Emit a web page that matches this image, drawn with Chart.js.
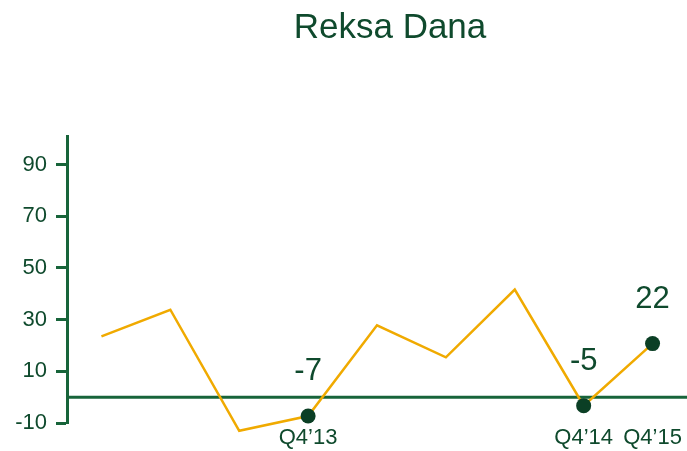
<!DOCTYPE html>
<html>
<head>
<meta charset="utf-8">
<script src="https://cdn.jsdelivr.net/npm/chart.js@4"></script>
<style>
  html, body { margin: 0; padding: 0; background: #ffffff; }
  #wrap { width: 687px; height: 451px; position: relative; }
</style>
</head>
<body>
<div id="wrap"><canvas id="c"></canvas></div>
<script>
const titleText = 'Reksa Dana';
const categories = ['Q1', 'Q2', 'Q3', 'Q4\u201913', 'Q1', 'Q2', 'Q3', 'Q4\u201914', 'Q4\u201915'];
const shownLabels = ['', '', '', 'Q4\u201913', '', '', '', 'Q4\u201914', 'Q4\u201915'];
const values = [23.5, 33.8, -13, -7.3, 27.8, 15.4, 41.6, -3.3, 20.7];
const markerLabels = ['', '', '', '-7', '', '', '', '-5', '22'];
const yTicks = [-10, 10, 30, 50, 70, 90];

const GREEN_AXIS = '#17643a';
const GREEN_TEXT = '#0f4a2d';
const GREEN_DOT = '#0b3f25';
const ORANGE = '#f0aa00';
const FONT = '"Liberation Sans", Arial, sans-serif';

const overlay = {
  id: 'overlay',
  beforeDatasetsDraw(chart) {
    const ctx = chart.ctx, y = chart.scales.y, a = chart.chartArea;
    const py = y.getPixelForValue(0);
    ctx.save();
    ctx.strokeStyle = GREEN_AXIS;
    ctx.lineWidth = 3;
    ctx.beginPath();
    ctx.moveTo(a.left, py);
    ctx.lineTo(chart.width, py);
    ctx.stroke();
    ctx.restore();
  },
  afterDatasetsDraw(chart) {
    const ctx = chart.ctx;
    const meta = chart.getDatasetMeta(0);
    ctx.save();
    ctx.fillStyle = GREEN_TEXT;
    ctx.font = '31px ' + FONT;
    ctx.textAlign = 'center';
    ctx.textBaseline = 'alphabetic';
    meta.data.forEach((pt, i) => {
      if (markerLabels[i]) ctx.fillText(markerLabels[i], pt.x, pt.y - 36);
    });
    ctx.font = '35px ' + FONT;
    ctx.fillText(titleText, 390, 38);
    ctx.restore();
  }
};

new Chart(document.getElementById('c'), {
  type: 'line',
  data: {
    labels: categories,
    datasets: [{
      data: values,
      borderColor: ORANGE,
      borderWidth: 2.5,
      tension: 0,
      fill: false,
      clip: false,
      pointRadius: markerLabels.map(l => l ? 7.5 : 0),
      pointHoverRadius: markerLabels.map(l => l ? 7.5 : 0),
      pointBackgroundColor: GREEN_DOT,
      pointBorderColor: GREEN_DOT,
      pointBorderWidth: 0
    }]
  },
  options: {
    responsive: true,
    maintainAspectRatio: false,
    animation: false,
    layout: { autoPadding: false, padding: { top: 136, right: 0, left: 0, bottom: 0 } },
    plugins: { legend: { display: false }, tooltip: { enabled: false }, title: { display: false } },
    scales: {
      x: {
        type: 'category',
        offset: true,
        grid: { display: false, drawTicks: false },
        border: { display: false },
        afterFit: (s) => { s.height = 28; s.paddingLeft = 0; s.paddingRight = 0; },
        ticks: {
          autoSkip: false,
          maxRotation: 0,
          padding: 2,
          color: GREEN_TEXT,
          font: { family: FONT, size: 22 },
          callback: (v, i) => shownLabels[i]
        }
      },
      y: {
        min: -10,
        max: 101,
        afterBuildTicks: (s) => { s.ticks = yTicks.map(v => ({ value: v })); },
        afterFit: (s) => { s.width = 67; s.paddingTop = 0; s.paddingBottom = 0; },
        grid: { drawOnChartArea: false, tickLength: 11, tickWidth: 3, tickColor: GREEN_AXIS, color: GREEN_AXIS },
        border: { display: true, color: GREEN_AXIS, width: 3 },
        ticks: {
          padding: 9,
          color: GREEN_TEXT,
          font: { family: FONT, size: 22 }
        }
      }
    }
  },
  plugins: [overlay]
});
</script>
</body>
</html>
